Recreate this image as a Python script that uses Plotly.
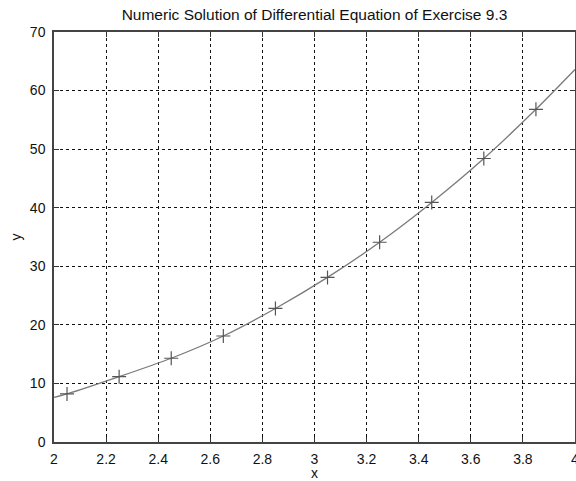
import plotly.graph_objects as go

# Data
x_line = [2.0, 2.05, 2.25, 2.45, 2.65, 2.85, 3.05, 3.25, 3.45, 3.65, 3.85, 4.0]
y_line = [7.6, 8.2, 11.15, 14.3, 18.1, 22.8, 28.1, 34.1, 40.9, 48.4, 56.8, 63.6]
x_mark = [2.05, 2.25, 2.45, 2.65, 2.85, 3.05, 3.25, 3.45, 3.65, 3.85]
y_mark = [8.2, 11.15, 14.3, 18.1, 22.8, 28.1, 34.1, 40.9, 48.4, 56.8]
x_ticks = [2, 2.2, 2.4, 2.6, 2.8, 3, 3.2, 3.4, 3.6, 3.8, 4]
x_tick_text = ["2", "2.2", "2.4", "2.6", "2.8", "3", "3.2", "3.4", "3.6", "3.8", "4"]
y_ticks = [0, 10, 20, 30, 40, 50, 60, 70]

FONT = "Liberation Sans, Arial, sans-serif"

fig = go.Figure()
fig.add_trace(go.Scatter(
    x=x_line, y=y_line, mode="lines",
    line=dict(color="#7a7a7a", width=1.3, shape="spline", smoothing=0.6),
    showlegend=False, hoverinfo="skip",
))
fig.add_trace(go.Scatter(
    x=x_mark, y=y_mark, mode="markers",
    marker=dict(symbol="cross-thin", size=10, line=dict(color="#555555", width=1.2)),
    showlegend=False,
))

axis_common = dict(
    showline=True, linecolor="#444444", linewidth=1.5, mirror="ticks",
    ticks="inside", ticklen=5, tickcolor="#333333", tickwidth=1,
    showgrid=True, gridcolor="#111111", gridwidth=1, griddash="3px,3px",
    zeroline=False, tickfont=dict(family=FONT, size=14, color="#111111"),
    automargin=False, ticklabeloverflow="allow",
)

fig.update_layout(
    width=576, height=481,
    margin=dict(l=54, r=1, t=32, b=39),
    paper_bgcolor="white", plot_bgcolor="white",
    font=dict(family=FONT, size=14, color="#111111"),
    title=dict(text="Numeric Solution of Differential Equation of Exercise 9.3",
               x=0.5, xref="paper", y=1 - 15 / 481, yref="container",
               yanchor="middle", xanchor="center",
               font=dict(family=FONT, size=15.5, color="#111111")),
    xaxis=dict(range=[2, 4], tickvals=x_ticks, ticktext=x_tick_text,
               title=dict(text="x", standoff=6, font=dict(family=FONT, size=14)),
               ticklabelstandoff=3, **axis_common),
    yaxis=dict(range=[0, 70], tickvals=y_ticks,
               title=dict(text="y", standoff=5, font=dict(family=FONT, size=14)),
               ticklabelstandoff=4, **axis_common),
)

fig.write_html("out.html", config={"displayModeBar": False},
               post_script="document.body.style.margin='0px';document.body.style.padding='0px';")
